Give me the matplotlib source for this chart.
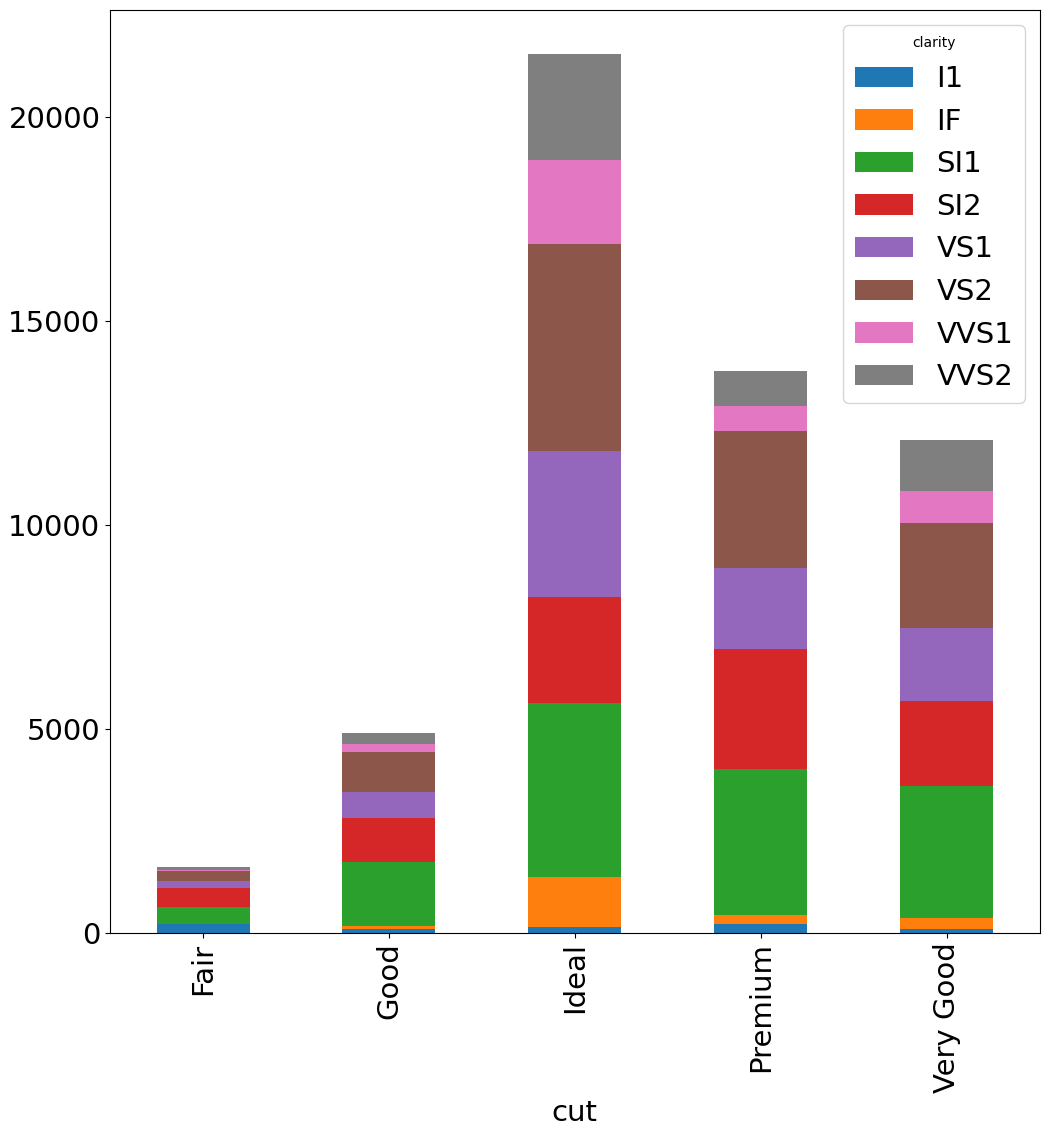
import pandas as pd
import matplotlib.pyplot as plt

cuts = ["Fair", "Good", "Ideal", "Premium", "Very Good"]
clarity = ["I1", "IF", "SI1", "SI2", "VS1", "VS2", "VVS1", "VVS2"]
I1 = [210, 96, 146, 205, 84]
IF = [9, 71, 1212, 230, 268]
SI1 = [408, 1560, 4282, 3575, 3240]
SI2 = [466, 1081, 2598, 2949, 2100]
VS1 = [170, 648, 3589, 1989, 1775]
VS2 = [261, 978, 5071, 3357, 2591]
VVS1 = [17, 186, 2047, 616, 789]
VVS2 = [69, 286, 2606, 870, 1235]

df = pd.DataFrame(
    dict(zip(clarity, [I1, IF, SI1, SI2, VS1, VS2, VVS1, VVS2])),
    index=pd.Index(cuts, name="cut"),
)
df.columns.name = "clarity"

fig, ax = plt.subplots(figsize=(10.49, 11.32), dpi=100)
df.plot(kind="bar", stacked=True, ax=ax, fontsize=21)
ax.set_xlabel("cut", fontsize=21)
ax.legend(title="clarity", fontsize=21, title_fontsize=10, loc="upper right")
fig.subplots_adjust(left=0.105, right=0.991, top=0.991, bottom=0.176)
fig.savefig("out.png")
